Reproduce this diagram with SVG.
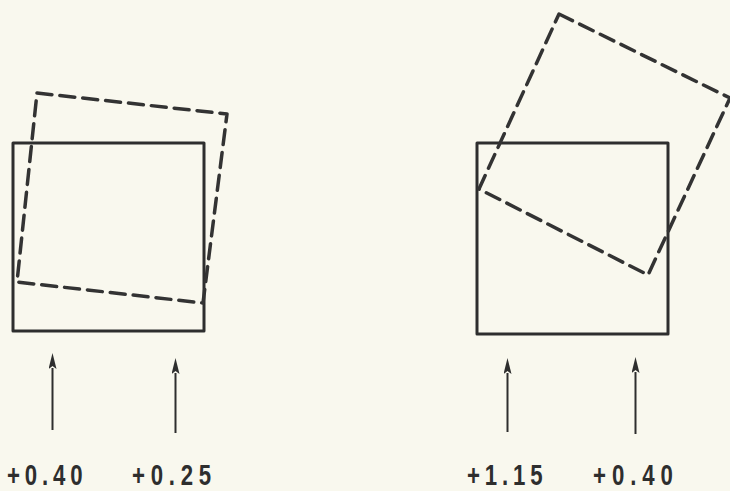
<svg xmlns="http://www.w3.org/2000/svg" width="730" height="491" viewBox="0 0 730 491">
<defs>
<style>
.solid{fill:none;stroke:#2e2e2e;stroke-width:3;stroke-linejoin:round}
.dash{fill:none;stroke:#333;stroke-width:3.5;stroke-dasharray:15 8;stroke-linecap:round;stroke-linejoin:round}
.shaft{stroke:#2e2e2e;stroke-width:2;fill:none}
.lbl{font-family:"Liberation Sans",Arial,sans-serif;font-size:30px;font-weight:bold;fill:#2e2e2e}
</style>
<marker id="ah" viewBox="0 0 16 8" refX="1" refY="4" markerWidth="16" markerHeight="8" markerUnits="userSpaceOnUse" orient="auto">
<path d="M0,0 L16,4 L0,8 L3,4 Z" fill="#2e2e2e"/>
</marker>
</defs>
<rect width="730" height="491" fill="#f9f8ee"/>
<g id="left-square">
<rect class="solid" x="13" y="143" width="191" height="188"/>
</g>
<g id="left-rotated">
<path class="dash" d="M37,93 L227,114 L203,303 L17,282 Z"/>
</g>
<g id="right-square">
<rect class="solid" x="477" y="143" width="191" height="191"/>
</g>
<g id="right-rotated">
<path class="dash" d="M559,14 L730,98 L648,275 L479,189 Z"/>
</g>
<g id="connectors">
<line class="shaft" x1="52.5" y1="430" x2="52.5" y2="368" marker-end="url(#ah)"/>
<line class="shaft" x1="175.5" y1="433" x2="175.5" y2="373" marker-end="url(#ah)"/>
<line class="shaft" x1="507.5" y1="432" x2="507.5" y2="373" marker-end="url(#ah)"/>
<line class="shaft" x1="635.5" y1="434" x2="635.5" y2="372" marker-end="url(#ah)"/>
</g>
<g id="labels">
<text class="lbl" transform="translate(7,484.5) scale(0.74,1)" textLength="102" lengthAdjust="spacing">+0.40</text>
<text class="lbl" transform="translate(132,484.5) scale(0.74,1)" textLength="107" lengthAdjust="spacing">+0.25</text>
<text class="lbl" transform="translate(467,484.5) scale(0.74,1)" textLength="102" lengthAdjust="spacing">+1.15</text>
<text class="lbl" transform="translate(593,484.5) scale(0.74,1)" textLength="108" lengthAdjust="spacing">+0.40</text>
</g>
</svg>
